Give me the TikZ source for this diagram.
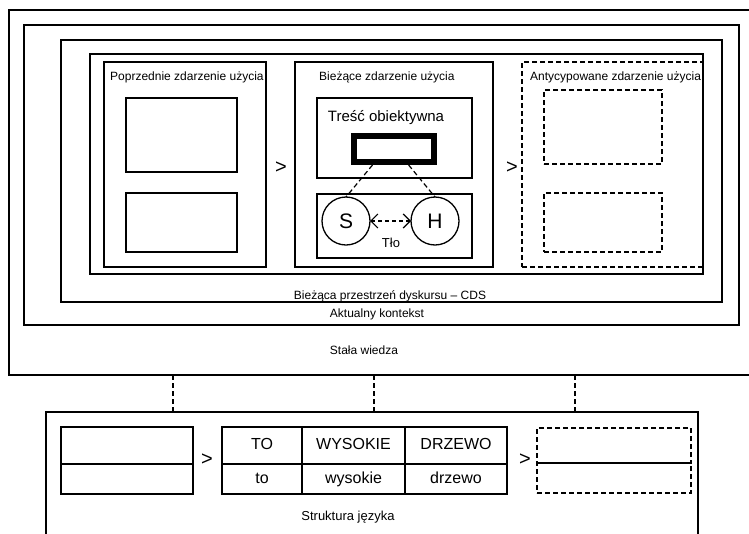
\documentclass[tikz,border=0pt]{standalone}
\usepackage{fontspec}
\setmainfont{Liberation Sans}
\usetikzlibrary{arrows.meta,calc}

\begin{document}
\begin{tikzpicture}[
  x=1pt, y=-1pt,
  box/.style={draw=black, line width=1.3pt, anchor=north west, inner sep=0pt, outer sep=0pt},
  dbox/.style={box, dash pattern=on 5pt off 3pt},
  cell/.style={box, font=\fontsize{16}{18}\selectfont, text height=11.5pt, text depth=3.5pt},
  agent/.style={circle, draw=black, line width=1.3pt, inner sep=0pt, outer sep=0pt, minimum size=48pt, font=\fontsize{21}{24}\selectfont},
  lbl/.style={inner sep=0pt, font=\fontsize{12}{14}\selectfont},
  gt/.style={inner sep=0pt, font=\fontsize{20}{22}\selectfont},
  link/.style={line width=1.2pt, dash pattern=on 5pt off 3pt}
]
  \useasboundingbox (0,0) rectangle (749,533);
  \clip (0,0) rectangle (749,533);

  % nested frames
  \node[box, minimum width=751pt, minimum height=365pt] (wiedza) at (9,10) {};
  \node[box, minimum width=715pt, minimum height=300pt] (kontekst) at (24,25) {};
  \node[box, minimum width=661pt, minimum height=262pt] (cds) at (61,40) {};
  \node[box, minimum width=613pt, minimum height=220pt] (ramka) at (90,54) {};

  % previous usage event
  \node[box, minimum width=162pt, minimum height=205pt] (poprz) at (104,62) {};
  \node[box, minimum width=111pt, minimum height=74pt] (p1) at (126,98) {};
  \node[box, minimum width=111pt, minimum height=59pt] (p2) at (126,193) {};
  \node[lbl, anchor=west] (poprzL) at (110,77) {Poprzednie zdarzenie użycia};

  % current usage event
  \node[box, minimum width=198pt, minimum height=205pt] (biez) at (295,62) {};
  \node[lbl, anchor=west] (biezL) at (319,77) {Bieżące zdarzenie użycia};
  \node[box, minimum width=155pt, minimum height=80pt] (tresc) at (317,98) {};
  \node[inner sep=0pt, font=\fontsize{15}{18}\selectfont] (trescL) at (386,118) {Treść obiektywna};
  \node[draw=black, line width=6pt, inner sep=0pt, minimum width=80pt, minimum height=26pt] (obj) at (394,149) {};
  \node[box, minimum width=155pt, minimum height=64pt] (tlo) at (317,194) {};
  \node[agent] (S) at (346,221) {S};
  \node[agent] (H) at (435,221) {H};
  \node[inner sep=0pt, font=\fontsize{13}{15}\selectfont] (tloL) at (391,243) {Tło};

  % anticipated usage event
  \node[dbox, minimum width=181pt, minimum height=205pt] (antyc) at (522,62) {};
  \node[dbox, minimum width=118pt, minimum height=74pt] (a1) at (544,90) {};
  \node[dbox, minimum width=118pt, minimum height=59pt] (a2) at (544,193) {};
  \node[lbl, anchor=west] (antycL) at (530,77) {Antycypowane zdarzenie użycia};

  \node[gt] (gt1) at (281,168) {>};
  \node[gt] (gt2) at (512,168) {>};

  \draw[link] ($(obj.south west)!0.25!(obj.south east)$) -- (S.north);
  \draw[link] ($(obj.south west)!0.67!(obj.south east)$) -- (H.north);
  \draw[line width=1.2pt, dash pattern=on 4pt off 3pt, {Straight Barb[length=7pt,width=14pt]}-{Straight Barb[length=7pt,width=14pt]}] (S) -- (H);

  % frame labels
  \node[lbl] (cdsL) at (390,296) {Bieżąca przestrzeń dyskursu – CDS};
  \node[lbl] (kontekstL) at (377,314) {Aktualny kontekst};
  \node[lbl] (wiedzaL) at (364,350) {Stała wiedza};

  % language structure
  \node[box, minimum width=652pt, minimum height=140pt] (jezyk) at (46,412) {};
  \node[inner sep=0pt, font=\fontsize{13}{15}\selectfont] (jezykL) at (348,517) {Struktura języka};

  \coordinate (c1) at (173,0);
  \coordinate (c2) at (374,0);
  \coordinate (c3) at (575,0);
  \foreach \c in {c1,c2,c3}
    \draw[link] (wiedza.south -| \c) -- (jezyk.north -| \c);

  \node[box, minimum width=132pt, minimum height=37pt] (l1) at (61,427) {};
  \node[box, minimum width=132pt, minimum height=30pt] (l2) at (61,464) {};
  \node[gt] (gt3) at (207,460) {>};

  \node[cell, minimum width=80pt, minimum height=37pt] (w11) at (222,427) {TO};
  \node[cell, minimum width=103pt, minimum height=37pt] (w12) at (302,427) {WYSOKIE};
  \node[cell, minimum width=102pt, minimum height=37pt] (w13) at (405,427) {DRZEWO};
  \node[cell, minimum width=80pt, minimum height=30pt] (w21) at (222,464) {to};
  \node[cell, minimum width=103pt, minimum height=30pt] (w22) at (302,464) {wysokie};
  \node[cell, minimum width=102pt, minimum height=30pt] (w23) at (405,464) {drzewo};
  \node[gt] (gt4) at (525,460) {>};

  \node[dbox, minimum width=154pt, minimum height=35pt] (r1) at (537,428) {};
  \node[dbox, minimum width=154pt, minimum height=30pt] (r2) at (537,463) {};
\end{tikzpicture}
\end{document}
